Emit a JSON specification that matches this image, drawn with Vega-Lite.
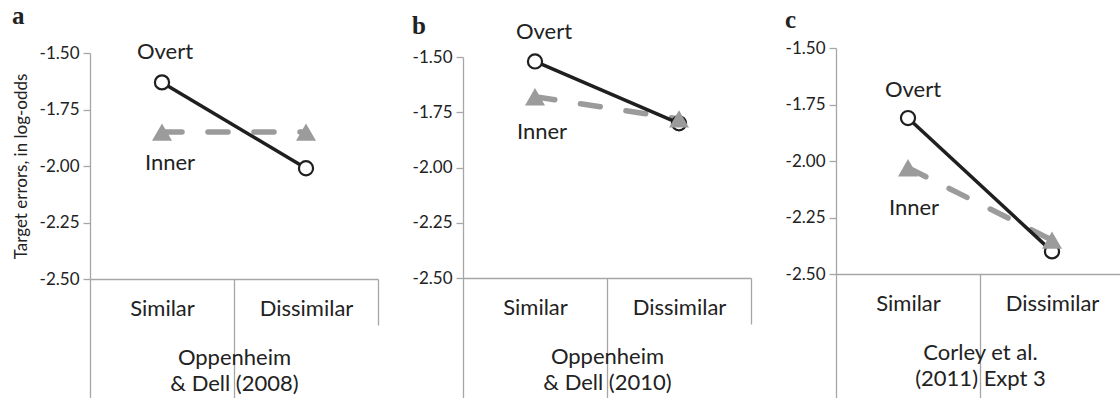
{
  "$schema": "https://vega.github.io/schema/vega-lite/v6.json",
  "padding": {"left": 12, "top": 4, "right": 0, "bottom": 0},
  "background": "white",
  "config": {
    "view": {"stroke": null},
    "font": "Lato",
    "axis": {"labelFont": "Lato", "titleFont": "Lato", "labelColor": "#222222", "titleColor": "#222222", "grid": false, "domainColor": "#a6a6a6", "tickColor": "#a6a6a6", "domainWidth": 1.3, "tickWidth": 1.3, "titleFontWeight": "normal"},
    "concat": {"spacing": 33},
    "title": {"font": "Liberation Serif", "fontSize": 25, "fontWeight": "bold", "color": "#222222", "anchor": "start", "frame": "bounds"}
  },
  "datasets": {
    "pts": [
      {"panel": "a", "series": "Overt", "condition": "Similar", "value": -1.63},
      {"panel": "a", "series": "Overt", "condition": "Dissimilar", "value": -2.01},
      {"panel": "a", "series": "Inner", "condition": "Similar", "value": -1.85},
      {"panel": "a", "series": "Inner", "condition": "Dissimilar", "value": -1.85},
      {"panel": "b", "series": "Overt", "condition": "Similar", "value": -1.52},
      {"panel": "b", "series": "Overt", "condition": "Dissimilar", "value": -1.8},
      {"panel": "b", "series": "Inner", "condition": "Similar", "value": -1.68},
      {"panel": "b", "series": "Inner", "condition": "Dissimilar", "value": -1.78},
      {"panel": "c", "series": "Overt", "condition": "Similar", "value": -1.81},
      {"panel": "c", "series": "Overt", "condition": "Dissimilar", "value": -2.4},
      {"panel": "c", "series": "Inner", "condition": "Similar", "value": -2.03},
      {"panel": "c", "series": "Inner", "condition": "Dissimilar", "value": -2.35}
    ]
  },
  "hconcat": [
    {
      "width": 288, "height": 226,
      "title": {"text": "a", "offset": 12},
      "data": {"name": "pts"},
      "transform": [{"filter": "datum.panel === 'a'"}],
      "encoding": {
        "x": {"field": "condition", "type": "nominal", "sort": ["Similar", "Dissimilar"], "scale": {"type": "band", "paddingInner": 0, "paddingOuter": 0},
          "axis": {"title": ["Oppenheim", "& Dell (2008)"], "labelAngle": 0, "tickBand": "extent",
            "tickSize": {"condition": {"test": "datum.index === 1", "value": 46}, "value": 125},
            "labelPadding": {"condition": {"test": "datum.index === 1", "value": -27}, "value": -106},
            "labelFontSize": 22, "titleFontSize": 22, "titleY": 68, "titleLineHeight": 26}},
        "y": {"field": "value", "type": "quantitative", "scale": {"domain": [-2.5, -1.5], "nice": false, "zero": false},
          "axis": {"values": [-2.5, -2.25, -2, -1.75, -1.5], "labelExpr": "(datum.value < 0 ? '-' : '') + format(abs(datum.value), '.2f')", "tickSize": 7, "labelPadding": 4, "labelFontSize": 17, "title": "Target errors, in log-odds", "titleFontSize": 17, "titlePadding": 9}}
      },
      "layer": [
        {"transform": [{"filter": "datum.series === 'Inner'"}], "mark": {"type": "line", "color": "#9b9b9b", "strokeWidth": 5.5, "strokeDash": [20, 26], "strokeCap": "round"}},
        {"transform": [{"filter": "datum.series === 'Overt'"}], "mark": {"type": "line", "color": "#1f1f1f", "strokeWidth": 3.5}},
        {"transform": [{"filter": "datum.series === 'Overt'"}], "mark": {"type": "point", "shape": "circle", "filled": true, "fill": "white", "stroke": "#1f1f1f", "strokeWidth": 2.2, "size": 200, "opacity": 1}},
        {"transform": [{"filter": "datum.series === 'Inner'"}], "mark": {"type": "point", "shape": "triangle-up", "filled": true, "color": "#9b9b9b", "size": 400, "opacity": 1}},
        {"transform": [{"filter": "datum.series === 'Overt' && datum.condition === 'Similar'"}], "mark": {"type": "text", "dx": 3, "dy": -30, "fontSize": 22, "font": "Lato", "color": "#222222"}, "encoding": {"text": {"field": "series"}}},
        {"transform": [{"filter": "datum.series === 'Inner' && datum.condition === 'Similar'"}], "mark": {"type": "text", "dx": 8, "dy": 31, "fontSize": 22, "font": "Lato", "color": "#222222"}, "encoding": {"text": {"field": "series"}}}
      ]
    },
    {
      "width": 288, "height": 225,
      "title": {"text": "b", "offset": -18},
      "data": {"name": "pts"},
      "transform": [{"filter": "datum.panel === 'b'"}],
      "encoding": {
        "x": {"field": "condition", "type": "nominal", "sort": ["Similar", "Dissimilar"], "scale": {"type": "band", "paddingInner": 0, "paddingOuter": 0},
          "axis": {"title": ["Oppenheim", "& Dell (2010)"], "labelAngle": 0, "tickBand": "extent",
            "tickSize": {"condition": {"test": "datum.index === 1", "value": 46}, "value": 125},
            "labelPadding": {"condition": {"test": "datum.index === 1", "value": -27}, "value": -106},
            "labelFontSize": 22, "titleFontSize": 22, "titleY": 68, "titleLineHeight": 26}},
        "y": {"field": "value", "type": "quantitative", "scale": {"domain": [-2.5, -1.5], "nice": false, "zero": false, "range": [225, 4]},
          "axis": {"values": [-2.5, -2.25, -2, -1.75, -1.5], "labelExpr": "(datum.value < 0 ? '-' : '') + format(abs(datum.value), '.2f')", "tickSize": 7, "labelPadding": 4, "labelFontSize": 17, "title": null}}
      },
      "layer": [
        {"transform": [{"filter": "datum.series === 'Inner'"}], "mark": {"type": "line", "color": "#9b9b9b", "strokeWidth": 5.5, "strokeDash": [20, 26], "strokeCap": "round"}},
        {"transform": [{"filter": "datum.series === 'Overt'"}], "mark": {"type": "line", "color": "#1f1f1f", "strokeWidth": 3.5}},
        {"transform": [{"filter": "datum.series === 'Overt'"}], "mark": {"type": "point", "shape": "circle", "filled": true, "fill": "white", "stroke": "#1f1f1f", "strokeWidth": 2.2, "size": 200, "opacity": 1}},
        {"transform": [{"filter": "datum.series === 'Inner'"}], "mark": {"type": "point", "shape": "triangle-up", "filled": true, "color": "#9b9b9b", "size": 400, "opacity": 1}},
        {"transform": [{"filter": "datum.series === 'Overt' && datum.condition === 'Similar'"}], "mark": {"type": "text", "dx": 9, "dy": -29, "fontSize": 22, "font": "Lato", "color": "#222222"}, "encoding": {"text": {"field": "series"}}},
        {"transform": [{"filter": "datum.series === 'Inner' && datum.condition === 'Similar'"}], "mark": {"type": "text", "dx": 7, "dy": 35, "fontSize": 22, "font": "Lato", "color": "#222222"}, "encoding": {"text": {"field": "series"}}}
      ]
    },
    {
      "width": 288, "height": 221,
      "title": {"text": "c", "offset": 6},
      "data": {"name": "pts"},
      "transform": [{"filter": "datum.panel === 'c'"}],
      "encoding": {
        "x": {"field": "condition", "type": "nominal", "sort": ["Similar", "Dissimilar"], "scale": {"type": "band", "paddingInner": 0, "paddingOuter": 0},
          "axis": {"title": ["Corley et al.", "(2011) Expt 3"], "labelAngle": 0, "tickBand": "extent",
            "tickSize": {"condition": {"test": "datum.index === 1", "value": 46}, "value": 125},
            "labelPadding": {"condition": {"test": "datum.index === 1", "value": -27}, "value": -106},
            "labelFontSize": 22, "titleFontSize": 22, "titleY": 68, "titleLineHeight": 26}},
        "y": {"field": "value", "type": "quantitative", "scale": {"domain": [-2.5, -1.5], "nice": false, "zero": false, "range": [221, -5]},
          "axis": {"values": [-2.5, -2.25, -2, -1.75, -1.5], "labelExpr": "(datum.value < 0 ? '-' : '') + format(abs(datum.value), '.2f')", "tickSize": 7, "labelPadding": 4, "labelFontSize": 17, "title": null}}
      },
      "layer": [
        {"transform": [{"filter": "datum.series === 'Inner'"}], "mark": {"type": "line", "color": "#9b9b9b", "strokeWidth": 5.5, "strokeDash": [20, 26], "strokeCap": "round"}},
        {"transform": [{"filter": "datum.series === 'Overt'"}], "mark": {"type": "line", "color": "#1f1f1f", "strokeWidth": 3.5}},
        {"transform": [{"filter": "datum.series === 'Overt'"}], "mark": {"type": "point", "shape": "circle", "filled": true, "fill": "white", "stroke": "#1f1f1f", "strokeWidth": 2.2, "size": 200, "opacity": 1}},
        {"transform": [{"filter": "datum.series === 'Inner'"}], "mark": {"type": "point", "shape": "triangle-up", "filled": true, "color": "#9b9b9b", "size": 400, "opacity": 1}},
        {"transform": [{"filter": "datum.series === 'Overt' && datum.condition === 'Similar'"}], "mark": {"type": "text", "dx": 5, "dy": -28, "fontSize": 22, "font": "Lato", "color": "#222222"}, "encoding": {"text": {"field": "series"}}},
        {"transform": [{"filter": "datum.series === 'Inner' && datum.condition === 'Similar'"}], "mark": {"type": "text", "dx": 6, "dy": 40, "fontSize": 22, "font": "Lato", "color": "#222222"}, "encoding": {"text": {"field": "series"}}}
      ]
    }
  ]
}
